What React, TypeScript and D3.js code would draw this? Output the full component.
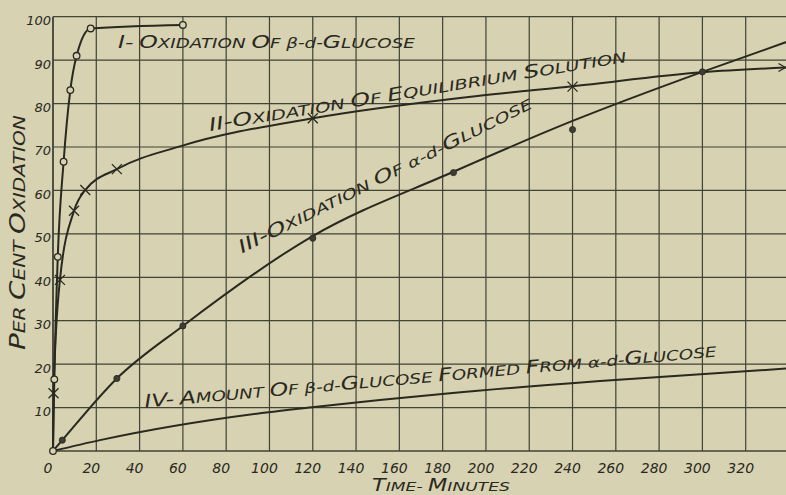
import React from 'react';
import * as d3 from 'd3';

const W = 786;
const H = 495;

// ---- data (minutes, per cent) ----
const xTicks = [0, 20, 40, 60, 80, 100, 120, 140, 160, 180, 200, 220, 240, 260, 280, 300, 320];
const yTicks = [10, 20, 30, 40, 50, 60, 70, 80, 90, 100];
const yGridVals = [0, 10, 20, 30, 40, 50, 60, 70, 80, 90, 100];

// Curve I: oxidation of beta-d-glucose (open circles)
const curveI: [number, number][] = [
  [0, 0], [0.6, 16.5], [2.2, 44.7], [4.9, 66.6], [8, 83.1], [10.9, 91], [17.4, 97.3], [60, 98.1],
];
const pointsI: [number, number][] = [
  [0, 0], [0.6, 16.5], [2.2, 44.7], [4.9, 66.6], [8, 83.1], [10.9, 91], [17.4, 97.3], [60, 98.1],
];

// Curve II: oxidation of equilibrium solution (crosses)
const curveII: [number, number][] = [
  [0, 0], [0.25, 13.3], [3.2, 39.4], [9.7, 55.3], [14.9, 60.1], [29.5, 64.9], [59, 70.2],
  [120, 76.6], [197, 81.8], [240, 84], [300, 87.2], [339, 88.3],
];
const pointsII: [number, number][] = [
  [0.25, 13.3], [3.2, 39.4], [9.7, 55.3], [14.9, 60.1], [29.5, 64.9], [120, 76.6], [240, 83.9],
];

// Curve III: oxidation of alpha-d-glucose (dots)
const curveIII: [number, number][] = [
  [0, 0], [4.3, 2.5], [29.5, 16.7], [60, 28.8], [120, 49.5], [185, 64.3], [240, 76], [300, 87.3], [339, 94.2],
];
const pointsIII: [number, number][] = [
  [4.3, 2.5], [29.5, 16.7], [60, 28.8], [120, 49], [185, 64.1], [240, 74], [300, 87.3],
];

// Curve IV: amount of beta-d-glucose formed from alpha-d-glucose
const curveIV: [number, number][] = [
  [0, 0], [21.7, 2.5], [95.6, 8.7], [121.8, 10.2], [183.4, 13.3], [252.7, 16.1], [339, 19],
];

const labelTexts = [
  'I- OXIDATION OF β-d-GLUCOSE',
  'II-OXIDATION OF EQUILIBRIUM SOLUTION',
  'III-OXIDATION OF α-d-GLUCOSE',
  'IV- AMOUNT OF β-d-GLUCOSE FORMED FROM α-d-GLUCOSE',
];
const xTitle = 'TIME- MINUTES';
const yTitle = 'PER CENT OXIDATION';

// ---- styles ----
const BG = '#d6d2b2';
const INK = '#2a2920';
const FONT = '"DejaVu Sans", sans-serif';

function capsRuns(s: string, big: number, small: number, numeral: boolean) {
  const runs: { text: string; size: number }[] = [];
  let prev = ' ';
  let inNum = numeral;
  for (const ch of Array.from(s)) {
    let size = small;
    if (inNum) {
      size = big;
      if (ch === '-') inNum = false;
    } else if (/[A-Z]/.test(ch) && /[\s\-·]/.test(prev)) {
      size = big;
    }
    const last = runs[runs.length - 1];
    if (last && last.size === size) last.text += ch;
    else runs.push({ text: ch, size });
    prev = ch;
  }
  return runs.map((r, i) => (
    <tspan key={i} fontSize={r.size}>{r.text}</tspan>
  ));
}

export default function App() {
  const x = d3.scaleLinear().domain([0, 340]).range([53, 789]);
  const y = d3.scaleLinear().domain([0, 100]).range([451, 16.7]);

  const line = d3
    .line<[number, number]>()
    .x((d) => x(d[0]))
    .y((d) => y(d[1]))
    .curve(d3.curveMonotoneX);

  const last = curveII[curveII.length - 1];
  const ax = Math.min(x(last[0]), W - 0.5);
  const ay = y(last[1]);

  // label anchors in data units: [t, v, angle, length]
  const labelPlace: [number, number, number, number][] = [
    [30, 92.8, 0, 297],
    [72.5, 73.7, -9.4, 423],
    [87.3, 45.5, -26.6, 326],
    [42.5, 10, -5.1, 574],
  ];

  return (
    <div style={{ position: 'fixed', left: 0, top: 0, width: W, height: H }}>
      <svg width={W} height={H} style={{ display: 'block', background: BG }}>
        <rect x={0} y={0} width={W} height={H} fill={BG} />
        {/* grid */}
        <g stroke={INK} strokeWidth={1.2} opacity={0.85}>
          {xTicks.map((t) => (
            <line key={'v' + t} x1={x(t)} x2={x(t)} y1={y(0)} y2={y(100)} strokeWidth={t === 0 ? 1.8 : 1.2} />
          ))}
          {yGridVals.map((v) => (
            <line key={'h' + v} x1={x(0)} x2={x(340)} y1={y(v)} y2={y(v)} strokeWidth={v === 0 ? 1.6 : 1.2} />
          ))}
        </g>

        {/* curves */}
        <g fill="none" stroke={INK} strokeWidth={2} strokeLinejoin="round">
          <path d={line(curveI) || ''} />
          <path d={line(curveII) || ''} />
          <path d={line(curveIII) || ''} />
          <path d={line(curveIV) || ''} />
          <path d={`M${ax - 7},${ay - 4}L${ax},${ay}L${ax - 7},${ay + 4}`} strokeWidth={1.4} />
        </g>

        {/* markers */}
        <g>
          {pointsIII.map((p, i) => (
            <circle key={'d' + i} cx={x(p[0])} cy={y(p[1])} r={3.1} fill="#3e3d33" stroke={INK} strokeWidth={0.8} />
          ))}
          {pointsII.map((p, i) => {
            const cx = x(p[0]);
            const cy = y(p[1]);
            const s = 5;
            return (
              <path key={'x' + i} d={`M${cx - s},${cy - s}L${cx + s},${cy + s}M${cx - s},${cy + s}L${cx + s},${cy - s}`} stroke={INK} strokeWidth={1.3} fill="none" />
            );
          })}
          {pointsI.map((p, i) => (
            <circle key={'o' + i} cx={x(p[0])} cy={y(p[1])} r={3.3} fill={BG} stroke={INK} strokeWidth={1.3} />
          ))}
        </g>

        {/* tick labels */}
        <g fill={INK} fontFamily={FONT} fontStyle="italic">
          {xTicks.map((t) => (
            <text key={'xt' + t} x={x(t) - 5} y={473} fontSize={14} textAnchor="middle">{t}</text>
          ))}
          {yTicks.map((v) => (
            <text key={'yt' + v} x={51} y={y(v) + 8.5} fontSize={13} textAnchor="end">{v}</text>
          ))}
        </g>

        {/* axis titles */}
        <g fill={INK} fontFamily={FONT} fontStyle="italic" style={{ whiteSpace: 'pre' }}>
          <text x={372} y={491} textLength={138} lengthAdjust="spacingAndGlyphs">
            {capsRuns(xTitle, 17, 13, false)}
          </text>
          <text transform={`translate(25,350) rotate(-90)`} x={0} y={0} textLength={235} lengthAdjust="spacingAndGlyphs">
            {capsRuns(yTitle, 22, 16, false)}
          </text>
        </g>

        {/* curve labels */}
        <g fill={INK} fontFamily={FONT} fontStyle="italic" style={{ whiteSpace: 'pre' }}>
          {labelTexts.map((s, i) => {
            const [t, v, ang, len] = labelPlace[i];
            return (
              <text key={'lb' + i} transform={`translate(${x(t)},${y(v)}) rotate(${ang})`} textLength={len} lengthAdjust="spacingAndGlyphs">
                {capsRuns(s, 18, 14, true)}
              </text>
            );
          })}
        </g>
      </svg>
    </div>
  );
}
